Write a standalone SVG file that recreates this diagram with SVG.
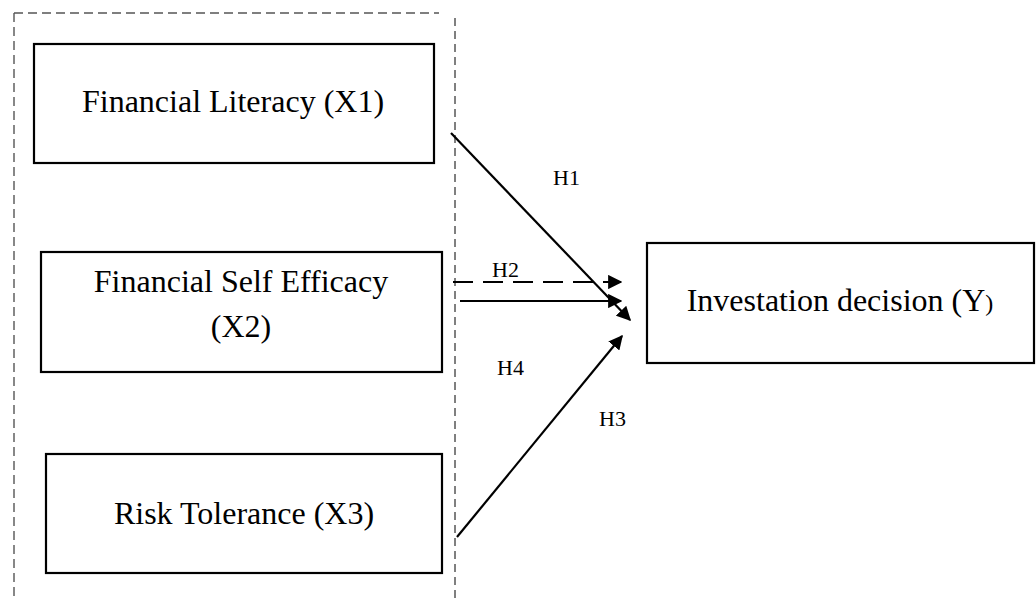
<svg xmlns="http://www.w3.org/2000/svg" width="1036" height="601" viewBox="0 0 1036 601">
<defs>
<style>
.box{fill:#fff;stroke:#000;stroke-width:2.2}
.t{font-family:"Liberation Serif","Times New Roman",serif;font-size:32px;fill:#000;text-anchor:middle}
.h{font-family:"Liberation Serif","Times New Roman",serif;font-size:22px;fill:#000}
.frame{fill:none;stroke:#555;stroke-width:1.4;stroke-dasharray:9 5}
.frame2{fill:none;stroke:#000;stroke-width:1;stroke-dasharray:8 5}
.arr{fill:none;stroke:#000;stroke-width:2.2;marker-end:url(#ah)}
</style>
<marker id="ah" viewBox="0 0 10 10" refX="9" refY="5" markerWidth="6.5" markerHeight="6.5" orient="auto" markerUnits="strokeWidth">
<path d="M0,0 L10,5 L0,10 Z" fill="#000"/>
</marker>
</defs>
<g id="frame">
<path class="frame" d="M14,13 H439 M14,13 V601"/>
<path class="frame2" d="M455,18 V601"/>
</g>
<g id="x1">
<rect class="box" x="34" y="44" width="400" height="119"/>
<text class="t" x="233" y="112">Financial Literacy (X1)</text>
</g>
<g id="x2">
<rect class="box" x="41" y="252" width="401" height="120"/>
<text class="t" x="241" y="292">Financial Self Efficacy</text>
<text class="t" x="241" y="337">(X2)</text>
</g>
<g id="x3">
<rect class="box" x="46" y="454" width="396" height="119"/>
<text class="t" x="244" y="524">Risk Tolerance (X3)</text>
</g>
<g id="y">
<rect class="box" x="647" y="243" width="387" height="120"/>
<text class="t" x="840" y="311">Investation decision (Y<tspan font-size="24">)</tspan></text>
</g>
<g id="connectors">
<line class="arr" x1="451" y1="133" x2="630" y2="320"/>
<line class="arr" x1="453" y1="282" x2="621" y2="282" stroke-dasharray="20 10"/>
<line class="arr" x1="460" y1="301" x2="621" y2="301"/>
<line class="arr" x1="457" y1="537" x2="622" y2="336"/>
<text class="h" x="553" y="185">H1</text>
<text class="h" x="492" y="277">H2</text>
<text class="h" x="497" y="375">H4</text>
<text class="h" x="599" y="426">H3</text>
</g>
</svg>
